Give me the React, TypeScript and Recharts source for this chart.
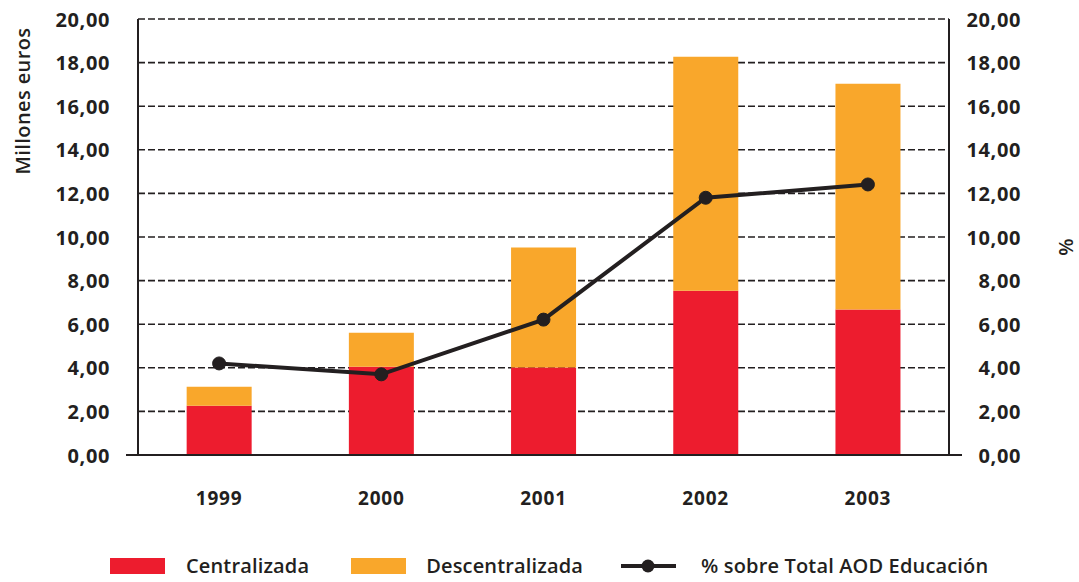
import React from "react";
import {
  ComposedChart,
  Bar,
  Line,
  XAxis,
  YAxis,
  CartesianGrid,
  Legend,
  ReferenceLine,
} from "recharts";

const years = ["1999", "2000", "2001", "2002", "2003"];
const centralizada = [2.26, 4.05, 4.01, 7.54, 6.67];
const descentralizada = [0.87, 1.56, 5.51, 10.73, 10.36];
const porcentajeAOD = [4.2, 3.7, 6.21, 11.8, 12.41];
const yTicks = [0, 2, 4, 6, 8, 10, 12, 14, 16, 18, 20];

const RED = "#ed1c2e";
const ORANGE = "#f9a72b";
const INK = "#231f20";
const FONT = "'Open Sans', sans-serif";

const data = years.map((year, i) => ({
  year,
  centralizada: centralizada[i],
  descentralizada: descentralizada[i],
  porcentaje: porcentajeAOD[i],
}));

const fmt = (v: number) => v.toFixed(2).replace(".", ",");

const LeftTick = ({ x, y, payload }: any) => (
  <text
    x={x - 20}
    y={y}
    textAnchor="end"
    dominantBaseline="central"
    fontFamily={FONT}
    fontWeight={700}
    fontSize={20}
    letterSpacing={0.6}
    fill={INK}
  >
    {fmt(payload.value)}
  </text>
);

const RightTick = ({ x, y, payload }: any) => (
  <text
    x={x + 64}
    y={y}
    textAnchor="end"
    dominantBaseline="central"
    fontFamily={FONT}
    fontWeight={700}
    fontSize={20}
    letterSpacing={0.6}
    fill={INK}
  >
    {fmt(payload.value)}
  </text>
);

const YearTick = ({ x, y, payload }: any) => (
  <text
    x={x}
    y={y + 35}
    textAnchor="middle"
    dominantBaseline="central"
    fontFamily={FONT}
    fontWeight={700}
    fontSize={19}
    letterSpacing={0.8}
    fill={INK}
  >
    {payload.value}
  </text>
);

const legendItems = [
  { label: "Centralizada", color: RED, kind: "rect", gapAfter: 42, textGap: 21 },
  { label: "Descentralizada", color: ORANGE, kind: "rect", gapAfter: 38, textGap: 20 },
  { label: "% sobre Total AOD Educación", color: INK, kind: "line", gapAfter: 0, textGap: 25 },
];

const renderLegend = () => (
  <div
    style={{
      display: "flex",
      alignItems: "center",
      height: 47,
      paddingTop: 14,
      boxSizing: "border-box",
      paddingLeft: 110,
      fontFamily: FONT,
      fontWeight: 600,
      fontSize: 20,
      letterSpacing: 0.15,
      color: INK,
      whiteSpace: "nowrap",
    }}
  >
    {legendItems.map((item) => (
      <div
        key={item.label}
        style={{ display: "flex", alignItems: "center", marginRight: item.gapAfter }}
      >
        {item.kind === "rect" ? (
          <span
            style={{
              display: "inline-block",
              width: 55,
              height: 16,
              background: item.color,
              marginRight: item.textGap,
            }}
          />
        ) : (
          <svg width={55} height={16} style={{ marginRight: item.textGap }}>
            <line x1={0} y1={8} x2={55} y2={8} stroke={item.color} strokeWidth={4} />
            <circle cx={27} cy={8} r={6.5} fill={item.color} />
          </svg>
        )}
        <span>{item.label}</span>
      </div>
    ))}
  </div>
);

export default function App() {
  return (
    <div style={{ position: "absolute", left: 0, top: 0, background: "#fff" }}>
      <ComposedChart
        width={1079}
        height={582}
        data={data}
        margin={{ top: 19, right: 0, left: 0, bottom: 0 }}
        barCategoryGap="30%"
      >
        <CartesianGrid
          vertical={false}
          horizontal
          stroke={INK}
          strokeWidth={1.6}
          strokeDasharray="7 3"
          yAxisId="left"
        />
        <XAxis
          dataKey="year"
          axisLine={false}
          tickLine={false}
          height={80}
          tick={<YearTick />}
          interval={0}
        />
        <YAxis
          yAxisId="left"
          orientation="left"
          width={138}
          domain={[0, 20]}
          ticks={yTicks}
          interval={0}
          axisLine={{ stroke: INK, strokeWidth: 2 }}
          tickLine={false}
          tick={<LeftTick />}
          label={(props: any) => {
            const vb = props.viewBox || { x: 0, y: 19 };
            return (
              <text
                x={22}
                y={vb.y + 82}
                transform={`rotate(-90, 22, ${vb.y + 82})`}
                textAnchor="middle"
                dominantBaseline="central"
                fontFamily={FONT}
                fontWeight={600}
                fontSize={20}
                letterSpacing={0.4}
                fill={INK}
              >
                Millones euros
              </text>
            );
          }}
        />
        <YAxis
          yAxisId="right"
          orientation="right"
          width={130}
          domain={[0, 20]}
          ticks={yTicks}
          interval={0}
          axisLine={{ stroke: INK, strokeWidth: 2 }}
          tickLine={false}
          tick={<RightTick />}
          label={(props: any) => {
            const vb = props.viewBox || { x: 949, y: 19, height: 436 };
            const cy = vb.y + 228;
            return (
              <text
                x={1065}
                y={cy}
                transform={`rotate(-90, 1065, ${cy})`}
                textAnchor="middle"
                dominantBaseline="central"
                fontFamily={FONT}
                fontWeight={600}
                fontSize={20}
                fill={INK}
              >
                %
              </text>
            );
          }}
        />
        <Bar
          yAxisId="left"
          dataKey="centralizada"
          stackId="a"
          fill={RED}
          isAnimationActive={false}
        />
        <Bar
          yAxisId="left"
          dataKey="descentralizada"
          stackId="a"
          fill={ORANGE}
          isAnimationActive={false}
        />
        <ReferenceLine
          yAxisId="left"
          y={0}
          ifOverflow="visible"
          shape={(p: any) => (
            <line
              x1={p.x1 - 12}
              y1={p.y1}
              x2={p.x2 + 13}
              y2={p.y2}
              stroke={INK}
              strokeWidth={2}
            />
          )}
        />
        <Line
          yAxisId="right"
          dataKey="porcentaje"
          type="linear"
          stroke={INK}
          strokeWidth={4}
          dot={{ r: 6.5, fill: INK, stroke: INK, strokeWidth: 1 }}
          activeDot={false}
          isAnimationActive={false}
        />
        <Legend verticalAlign="bottom" height={47} content={renderLegend} />
      </ComposedChart>
    </div>
  );
}
